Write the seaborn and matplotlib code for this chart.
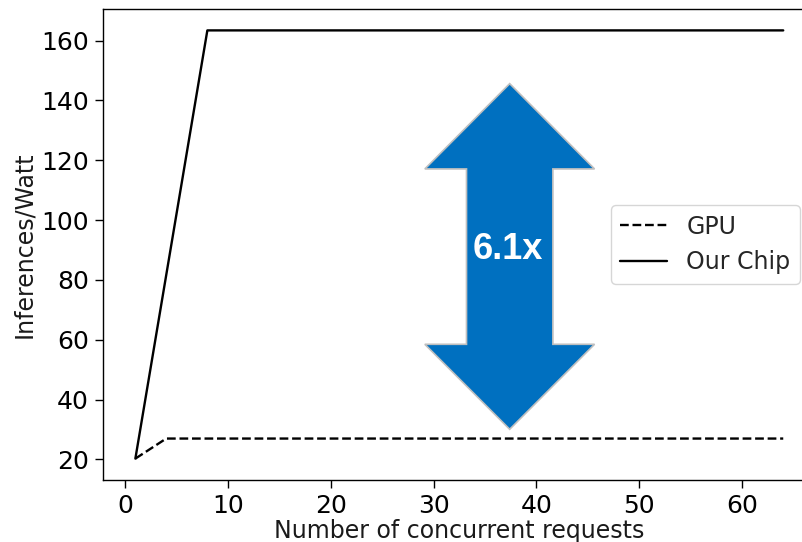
import matplotlib
matplotlib.use("Agg")
import matplotlib.pyplot as plt
import seaborn as sns
import pandas as pd
from matplotlib.patches import Polygon

# Data
gpu_x = [1, 4, 64]
gpu_y = [20.3, 27.0, 27.0]
chip_x = [1, 8, 64]
chip_y = [20.3, 163.4, 163.4]
series_labels = ["GPU", "Our Chip"]
ratio_text = "6.1x"

# Arrow annotation geometry (data units)
arrow_cx = 37.4
arrow_top = 145.6
arrow_bot = 30.1
head_top_base = 117.1
head_bot_base = 58.5
head_half = 8.25
shaft_half = 4.2

sns.set_style("white")
plt.rcParams["font.family"] = ["DejaVu Sans"]

fig = plt.figure(figsize=(8.02, 5.42), dpi=100)
ax = fig.add_axes([0.1284, 0.1144, 1.017 - 0.1284, 0.9834 - 0.1144])

sns.lineplot(x=gpu_x, y=gpu_y, ax=ax, color="black", linestyle="--",
             linewidth=1.7, label=series_labels[0])
sns.lineplot(x=chip_x, y=chip_y, ax=ax, color="black", linestyle="-",
             linewidth=1.7, label=series_labels[1])

for s in ax.spines.values():
    s.set_color("black")
    s.set_linewidth(1.0)
ax.tick_params(axis="both", which="both", direction="out", length=6, width=1,
               labelsize=18, colors="black", left=True, bottom=True, pad=4)
ax.set_xlabel("Number of concurrent requests", fontsize=17, color="#1a1a1a",
              labelpad=0.5)
ax.set_ylabel("Inferences/Watt", fontsize=17, color="#1a1a1a")
ax.set_xticks([0, 10, 20, 30, 40, 50, 60])
ax.set_yticks([20, 40, 60, 80, 100, 120, 140, 160])
ax.set_xlim(-2.15, 67.15)
ax.set_ylim(13.15, 170.55)

# Double-headed arrow
pts = [
    (arrow_cx, arrow_top),
    (arrow_cx + head_half, head_top_base),
    (arrow_cx + shaft_half, head_top_base),
    (arrow_cx + shaft_half, head_bot_base),
    (arrow_cx + head_half, head_bot_base),
    (arrow_cx, arrow_bot),
    (arrow_cx - head_half, head_bot_base),
    (arrow_cx - shaft_half, head_bot_base),
    (arrow_cx - shaft_half, head_top_base),
    (arrow_cx - head_half, head_top_base),
]
ax.add_patch(Polygon(pts, closed=True, facecolor="#0070C0",
                     edgecolor="#BFBFBF", linewidth=1.2, zorder=3))
ax.text(arrow_cx - 0.2, 90.3, ratio_text, color="white", fontsize=26,
        fontweight="bold", family="Liberation Sans",
        ha="center", va="center", zorder=4)

leg = ax.legend(loc="center right", bbox_to_anchor=(0.978, 0.5),
                fontsize=17, frameon=True, fancybox=True,
                handlelength=2.0, borderaxespad=0)
leg.get_frame().set_edgecolor("#CCCCCC")

fig.savefig("out.png", dpi=100)
